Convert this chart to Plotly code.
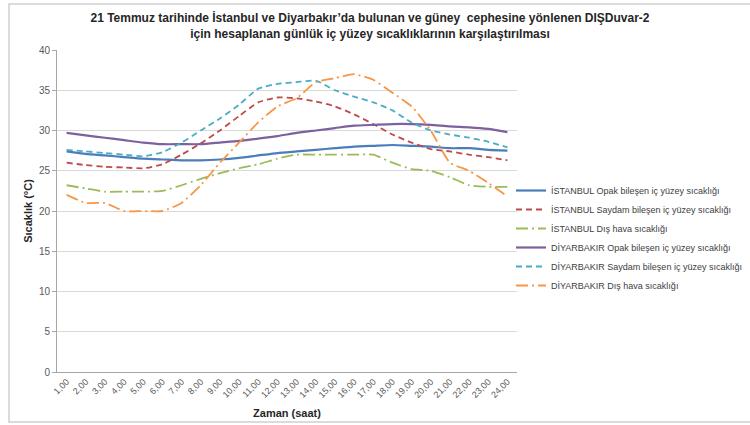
import plotly.graph_objects as go

# Hours of the day (category labels)
hours = [f"{h},00" for h in range(1, 25)]

# Inner surface / outdoor temperatures (°C)
ist_opak = [27.4, 27.1, 26.9, 26.7, 26.5, 26.4, 26.3, 26.3, 26.4, 26.6, 26.9, 27.2,
            27.4, 27.6, 27.8, 28.0, 28.1, 28.2, 28.1, 28.0, 27.8, 27.8, 27.6, 27.5]
ist_saydam = [26.0, 25.7, 25.5, 25.4, 25.3, 25.8, 27.0, 28.4, 30.0, 31.8, 33.5, 34.1,
              34.0, 33.6, 33.0, 32.0, 30.8, 29.5, 28.5, 27.7, 27.4, 27.0, 26.7, 26.3]
ist_dis = [23.2, 22.8, 22.4, 22.4, 22.4, 22.5, 23.2, 24.0, 24.7, 25.3, 25.8, 26.5,
           27.0, 27.0, 27.0, 27.0, 27.0, 26.0, 25.2, 25.0, 24.2, 23.2, 23.0, 23.0]
diy_opak = [29.7, 29.4, 29.1, 28.8, 28.5, 28.3, 28.3, 28.3, 28.5, 28.7, 29.0, 29.3,
            29.7, 30.0, 30.3, 30.6, 30.7, 30.8, 30.8, 30.7, 30.5, 30.4, 30.2, 29.8]
diy_saydam = [27.6, 27.4, 27.2, 27.0, 26.8, 27.3, 28.5, 30.0, 31.5, 33.2, 35.2, 35.8,
              36.0, 36.2, 35.0, 34.2, 33.5, 32.5, 31.0, 30.0, 29.5, 29.1, 28.6, 27.9]
diy_dis = [22.0, 21.0, 21.0, 20.0, 20.0, 20.0, 21.0, 23.2, 26.0, 28.5, 31.0, 33.0,
           34.0, 36.0, 36.5, 37.0, 36.3, 34.7, 33.0, 30.0, 26.0, 25.0, 23.5, 21.8]

series = [
    ("İSTANBUL Opak bileşen iç yüzey sıcaklığı", ist_opak, "#4A7EBB", "solid", 2.2),
    ("İSTANBUL Saydam bileşen iç yüzey sıcaklığı", ist_saydam, "#BE4B48", "6px,4px", 1.8),
    ("İSTANBUL Dış hava sıcaklığı", ist_dis, "#9BBB59", "12px,4px,2px,4px", 1.8),
    ("DİYARBAKIR Opak bileşen iç yüzey sıcaklığı", diy_opak, "#7D60A0", "solid", 2.2),
    ("DİYARBAKIR Saydam bileşen iç yüzey sıcaklığı", diy_saydam, "#4BACC6", "6px,4px", 1.8),
    ("DİYARBAKIR Dış hava sıcaklığı", diy_dis, "#F79646", "12px,4px,2px,4px", 1.8),
]

FONT = "Liberation Sans, Arial, sans-serif"

fig = go.Figure()
for name, vals, color, dash, width in series:
    fig.add_trace(go.Scatter(
        x=hours, y=vals, name=name, mode="lines",
        line=dict(color=color, width=width, dash=dash, shape="spline", smoothing=0.5),
    ))

# Plot area geometry (pixels)
W, H = 750, 425
L, R, T, B = 57, 517, 50, 372

def px_x(p):
    return (p - L) / (R - L)

def px_y(p):
    return (B - p) / (B - T)

# Outer chart border
fig.add_shape(type="rect", xref="paper", yref="paper",
              x0=px_x(9), x1=px_x(760), y0=px_y(422), y1=px_y(4),
              line=dict(color="#D0D0D0", width=1.5), fillcolor="rgba(0,0,0,0)",
              layer="below")

fig.update_layout(
    width=W, height=H,
    margin=dict(l=L, r=W - R, t=T, b=H - B, pad=0, autoexpand=False),
    paper_bgcolor="white", plot_bgcolor="white",
    font=dict(family=FONT, color="#404040"),
    title=dict(
        text="<b>21 Temmuz tarihinde İstanbul ve Diyarbakır’da bulunan ve güney  cephesine yönlenen DIŞDuvar-2"
             "<br>için hesaplanan günlük iç yüzey sıcaklıklarının karşılaştırılması</b>",
        x=370 / W, xanchor="center", y=1 - 22 / H, yanchor="top",
        font=dict(size=12, color="#262626", family=FONT),
    ),
    xaxis=dict(
        type="category", tickangle=-45, showgrid=False,
        showline=True, linecolor="#A6A6A6", linewidth=1,
        ticks="", tickfont=dict(size=9, color="#595959"),
        title=dict(text="<b>Zaman (saat)</b>", font=dict(size=11, color="#262626"), standoff=10),
        range=[-0.5, 23.5], fixedrange=True, automargin=False,
    ),
    yaxis=dict(
        range=[0, 40], dtick=5, showgrid=True, gridcolor="#D9D9D9", gridwidth=1,
        showline=True, linecolor="#A6A6A6", linewidth=1,
        ticks="outside", ticklen=4, tickcolor="#A6A6A6",
        tickfont=dict(size=10, color="#595959"), zeroline=False, automargin=False,
        title=dict(text="<b>Sıcaklık (°C)</b>", font=dict(size=11, color="#262626"), standoff=4),
    ),
    legend=dict(
        x=px_x(511), xanchor="left", y=px_y(176), yanchor="top",
        font=dict(size=9, color="#404040"), bgcolor="rgba(0,0,0,0)",
        tracegroupgap=0,
    ),
    showlegend=True,
)

fig.write_html("out.html")
